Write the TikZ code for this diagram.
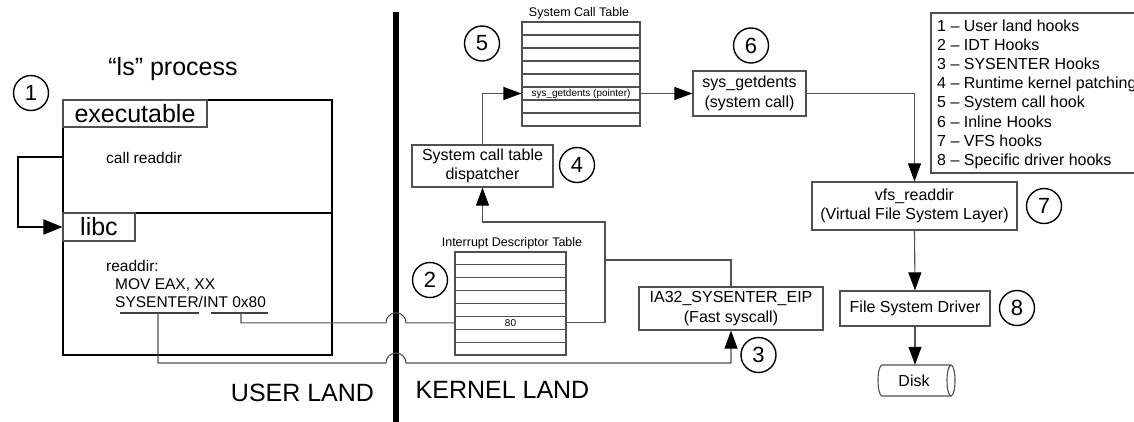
\documentclass[tikz,border=0pt]{standalone}
\usepackage{fontspec}
\setmainfont{Liberation Sans}
\usetikzlibrary{arrows.meta}
\definecolor{wire}{RGB}{80,80,80}
\newcommand\setfs[2]{\fontsize{#1}{#2}\selectfont}

\begin{document}
\begin{tikzpicture}[x=1pt,y=-1pt,
  wire/.style={draw=wire,line width=1.1pt},
  flow/.style={wire,-{Triangle[length=18pt,width=13pt,color=black]}},
  box/.style={draw=wire,line width=1.2pt,fill=white,inner sep=0pt,align=center,font=\setfs{16}{19.5}},
  tag/.style={draw=wire,line width=1.1pt,inner sep=0pt,font=\setfs{25}{25}},
  hook/.style={circle,draw=black,line width=1.4pt,minimum size=35pt,inner sep=0pt,font=\setfs{22}{22}},
  code/.style={inner sep=0pt,anchor=base west,font=\setfs{15.5}{18.5}},
  big/.style={inner sep=0pt,font=\setfs{25}{25}},
  tabtitle/.style={inner sep=0pt,font=\setfs{12.5}{12.5}},
  cellnote/.style={inner sep=0pt,font=\setfs{10}{10}},
  sctrow/.style={draw=wire,line width=1.1pt,minimum width=118pt,minimum height=13pt,inner sep=0pt},
  idtrow/.style={draw=wire,line width=1.1pt,minimum width=111pt,minimum height=12.875pt,inner sep=0pt},
  legline/.style={inner sep=0pt,anchor=base west,font=\setfs{16}{16}},
  underl/.style={draw=black!75,line width=2pt}
]
\useasboundingbox (0,0) rectangle (1134,421);

% ---------- user land: the "ls" process ----------
\node[big,anchor=base] (lstitle) at (173,75) {“ls” process};
\node[draw=black,line width=2pt,minimum width=269pt,minimum height=255pt,inner sep=0pt] (proc) at (197.5,227.5) {};
\coordinate (divL) at (63,213);
\coordinate (divR) at (332,213);
\draw[black,line width=1.6pt] (divL) -- (divR);
\node[tag,minimum width=144pt,minimum height=27pt] (exe) at (135,113.5) {executable};
\node[tag,minimum width=72pt,minimum height=28pt] (libc) at (99,227) {libc};

\node[code] (call) at (106,163) {call readdir};
\node[code] (rd) at (106,271) {readdir:};
\node[code] (mov) at (115,289) {MOV EAX, XX};
\node[code] (sysint) at (115,307.5) {SYSENTER/INT 0x80};

% underlines marking the two entry instructions
\coordinate (sysA) at (120,313);
\coordinate (sysB) at (199,313);
\coordinate (intA) at (211,313);
\coordinate (intB) at (268,313);
\coordinate (sysU) at (158,313);
\coordinate (intU) at (241,313);
\draw[underl] (sysA) -- (sysB);
\draw[underl] (intA) -- (intB);

% call into libc
\draw[black,line width=2pt,-{Triangle[length=19pt,width=15pt]}]
  (proc.west |- call.west) -- ++(-44,0) |- (libc.west);

% ---------- user / kernel boundary ----------
\coordinate (wallTop) at (396,12);
\coordinate (wallBot) at (396,425);
\draw[black,line width=5.5pt] (wallTop) -- (wallBot);
\node[big] (uland) at (302.5,393) {USER LAND};
\node[big] (kland) at (502.5,390) {KERNEL LAND};

% ---------- system call table ----------
\node[tabtitle] (scttitle) at (579,13) {System Call Table};
\foreach \i in {1,...,8}
  \node[sctrow] (sct\i) at (581,22+13*\i-6.5) {};
\node[cellnote] (sctptr) at (sct6) {sys\_getdents (pointer)};

% ---------- interrupt descriptor table ----------
\node[tabtitle] (idttitle) at (512,243) {Interrupt Descriptor Table};
\foreach \i in {1,...,8}
  \node[idtrow] (idt\i) at (510.5,252+12.875*\i-6.4375) {};
\node[cellnote] (idt80) at (idt6) {80};

% ---------- kernel boxes ----------
\node[box,minimum width=141pt,minimum height=42pt] (disp) at (482.5,166) {System call table\\dispatcher};
\node[box,minimum width=113pt,minimum height=45pt] (sys) at (749.5,93.5) {sys\_getdents\\(system call)};
\node[box,minimum width=205pt,minimum height=48pt] (vfs) at (914.5,206) {vfs\_readdir\\(Virtual File System Layer)};
\node[box,minimum width=150pt,minimum height=35pt] (fsd) at (915,308.5) {File System Driver};
\node[box,minimum width=184pt,minimum height=43pt] (ia32) at (731,308.5) {IA32\_SYSENTER\_EIP\\(Fast syscall)};

% disk drawn as a lying cylinder
\node[inner sep=0pt,minimum width=77pt,minimum height=31pt] (disk) at (914,380.5) {};
\draw[wire,fill=white] (882,365) arc[start angle=90,end angle=270,x radius=4pt,y radius=15.5pt]
  -- (951,396) arc[start angle=270,end angle=450,x radius=4pt,y radius=15.5pt] -- cycle;
\draw[wire] (951,365) arc[start angle=90,end angle=270,x radius=4pt,y radius=15.5pt];
\node[inner sep=0pt,font=\setfs{16}{16}] (disklabel) at (disk) {Disk};

% ---------- hook markers ----------
\node[hook] (h1) at (31,93) {1};
\node[hook] (h2) at (430,280) {2};
\node[hook] (h3) at (758.5,355) {3};
\node[hook] (h4) at (577,165) {4};
\node[hook] (h5) at (482,43.5) {5};
\node[hook] (h6) at (751,45.5) {6};
\node[hook] (h7) at (1044,206) {7};
\node[hook] (h8) at (1017,308) {8};

% ---------- legend ----------
\node[draw=wire,line width=1.1pt,minimum width=230pt,minimum height=160pt,inner sep=0pt] (legend) at (1046,93) {};
\node[legline] (leg1) at (937,31.5) {1 – User land hooks};
\node[legline] (leg2) at (937,50.6) {2 – IDT Hooks};
\node[legline] (leg3) at (937,69.7) {3 – SYSENTER Hooks};
\node[legline] (leg4) at (937,88.8) {4 – Runtime kernel patching};
\node[legline] (leg5) at (937,107.9) {5 – System call hook};
\node[legline] (leg6) at (937,127.0) {6 – Inline Hooks};
\node[legline] (leg7) at (937,146.1) {7 – VFS hooks};
\node[legline] (leg8) at (937,165.2) {8 – Specific driver hooks};

% ---------- connectors ----------
\coordinate (hop1) at (386,322.8);
\coordinate (hop2) at (386,363);
\coordinate (bend) at (605,222);
\coordinate (junc) at (605,260);

\draw[wire] (intU) |- (hop1) arc[start angle=180,end angle=0,radius=10pt] -- (idt6.west);
\draw[flow] (sysU) |- (hop2) arc[start angle=180,end angle=0,radius=10pt] -| (ia32.south);
\draw[flow] (idt6.east) -| (bend) -| (disp.south);
\draw[wire] (ia32.north) |- (junc);
\draw[flow] (disp.north) |- (sct6.west);
\draw[flow] (sct6.east) -- (sys.west);
\draw[flow] (sys.east) -| (vfs.north);
\draw[flow] (vfs.south) -- (fsd.north);
\draw[flow] (fsd.south) -- (fsd.south |- disk.north);
\end{tikzpicture}
\end{document}
